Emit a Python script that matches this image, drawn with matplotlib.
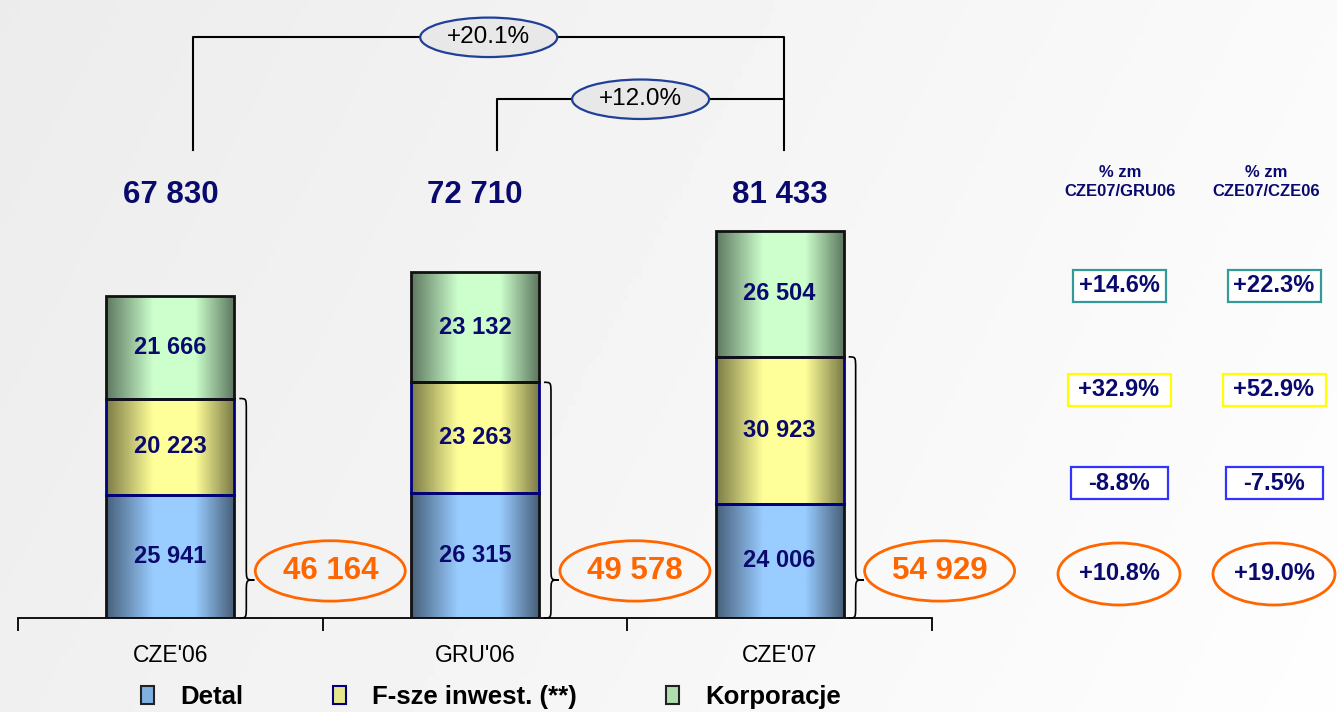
import numpy as np
import matplotlib
matplotlib.use("Agg")
import matplotlib.pyplot as plt
from matplotlib.colors import LinearSegmentedColormap
from matplotlib.patches import Ellipse, Rectangle, Patch, PathPatch
from matplotlib.path import Path

plt.rcParams['font.family'] = ['Liberation Sans', 'DejaVu Sans']

# data
categories = ["CZE'06", "GRU'06", "CZE'07"]
detal = [25941, 26315, 24006]
fsze = [20223, 23263, 30923]
korporacje = [21666, 23132, 26504]
totals = [67830, 72710, 81433]
sub_totals = [46164, 49578, 54929]
series_names = ["Detal", "F-sze inwest. (**)", "Korporacje"]
growth_top = ["+20.1%", "+12.0%"]
col_headers = ["% zm\nCZE07/GRU06", "% zm\nCZE07/CZE06"]
chg_gru = ["+14.6%", "+32.9%", "-8.8%", "+10.8%"]
chg_cze = ["+22.3%", "+52.9%", "-7.5%", "+19.0%"]

W, H = 1337, 712
NAVY = '#0a0a6e'
ORANGE = '#ff6600'

fig = plt.figure(figsize=(W / 100, H / 100), dpi=100)

# background gradient
bg = fig.add_axes([0, 0, 1, 1], zorder=-10)
gx, gy = np.meshgrid(np.linspace(0, 1, 200), np.linspace(0, 1, 100))
bg.imshow(0.925 + 0.055 * gx + 0.015 * gy, cmap='gray', vmin=0, vmax=1,
          aspect='auto', extent=[0, 1, 0, 1], origin='upper')
bg.axis('off')

ax = fig.add_axes([18 / W, 94 / H, (932 - 18) / W, 618 / H])
ax.patch.set_alpha(0)
x = np.arange(len(categories))
px = 1 / 304.7  # data units per pixel in x
bw = 0.42

cmaps = [
    LinearSegmentedColormap.from_list('b', ['#48617c', '#99ccff', '#99ccff', '#48617c'], N=256),
    LinearSegmentedColormap.from_list('y', ['#7d7d48', '#ffff99', '#ffff99', '#7d7d48'], N=256),
    LinearSegmentedColormap.from_list('g', ['#5f7a62', '#ccffcc', '#ccffcc', '#5f7a62'], N=256),
]
edges = ['#111111', '#000080', '#111111']
grad = np.linspace(0, 1, 100)[None, :]
grad = np.interp(grad, [0, 0.55, 1], [0, 0.5, 1])

bottoms = np.zeros(3)
for vals, cm, ec in zip([detal, fsze, korporacje], cmaps, edges):
    bars = ax.bar(x, vals, bw, bottom=bottoms, facecolor='none', edgecolor=ec, lw=2, zorder=3)
    for r, v in zip(bars, vals):
        x0, y0 = r.get_x(), r.get_y()
        im = ax.imshow(grad, cmap=cm, vmin=0, vmax=1, aspect='auto',
                       extent=[x0, x0 + r.get_width(), y0, y0 + r.get_height()], zorder=2)
        im.set_clip_path(r)
        ax.text(r.get_x() + r.get_width() / 2, y0 + v / 2, f"{v:,}".replace(",", " "),
                ha='center', va='center', fontsize=17, fontweight='bold', color=NAVY, zorder=4)
    bottoms += np.array(vals)

ymax = 130000
top = max(totals)
for xi, t in zip(x, totals):
    ax.text(xi, top * 1.093, f"{t:,}".replace(",", " "), ha='center', va='center',
            fontsize=22.5, fontweight='bold', color=NAVY)

# growth brackets
bx = [0.075, 1.072, 2.015]
base = top * 1.21
lv1, lv2 = top * 1.5, top * 1.34
ax.plot([bx[0], bx[0], bx[2], bx[2]], [base, lv1, lv1, base], color='black', lw=1.5, zorder=1, clip_on=False)
ax.plot([bx[1], bx[1], bx[2]], [base, lv2, lv2], color='black', lw=1.5, zorder=1, clip_on=False)
for (xa, xb), yl, lab in zip([(bx[0], bx[2]), (bx[1], bx[2])], [lv1, lv2], growth_top):
    xc = (xa + xb) / 2
    ax.add_patch(Ellipse((xc, yl), 137 * px, 8300, facecolor='#e8e8e8', edgecolor='#1f3f99',
                         lw=1.6, zorder=3, clip_on=False))
    ax.text(xc, yl, lab, ha='center', va='center', fontsize=17.5, color='black', zorder=4)

# braces and sub totals
for xi, s in zip(x, sub_totals):
    x0 = xi + bw / 2 + 5 * px
    x1 = x0 + 7 * px
    x2 = x0 + 15 * px
    yt, yb, ytip, r = s, 0, 8000, 2600
    verts = [(x0, yt), (x1, yt), (x1, yt), (x1, yt - r),
             (x1, ytip + r),
             (x1, ytip), (x1, ytip), (x2, ytip),
             (x1, ytip), (x1, ytip), (x1, ytip - r),
             (x1, yb + r),
             (x1, yb), (x1, yb), (x0, yb)]
    codes = [Path.MOVETO, Path.CURVE4, Path.CURVE4, Path.CURVE4, Path.LINETO,
             Path.CURVE4, Path.CURVE4, Path.CURVE4, Path.CURVE4, Path.CURVE4, Path.CURVE4,
             Path.LINETO, Path.CURVE4, Path.CURVE4, Path.CURVE4]
    ax.add_patch(PathPatch(Path(verts, codes), facecolor='none', edgecolor='black', lw=1.2,
                           zorder=3, clip_on=False))
    ec = xi + 0.525
    ax.add_patch(Ellipse((ec, 9900), 150 * px, 12700, facecolor='none', edgecolor=ORANGE, lw=2,
                         zorder=3, clip_on=False))
    ax.text(ec, 9900, f"{s:,}".replace(",", " "), ha='center', va='center',
            fontsize=22.5, fontweight='bold', color=ORANGE, zorder=4)

ax.set_xlim(-0.5, 2.5)
ax.set_ylim(0, ymax)
for sp in ['top', 'right', 'left']:
    ax.spines[sp].set_visible(False)
ax.spines['bottom'].set_linewidth(1.3)
ax.set_yticks([])
ax.set_xticks([-0.5, 0.5, 1.5, 2.5])
ax.set_xticklabels([])
ax.tick_params(axis='x', which='major', length=9, width=1.3, direction='out')
ax.set_xticks(x, minor=True)
ax.set_xticklabels(categories, minor=True, fontsize=16.5)
ax.tick_params(axis='x', which='minor', length=0, pad=19)

# legend
handles = [Patch(facecolor=c, edgecolor=e, lw=1.5) for c, e in
           zip(['#80b0e0', '#e6e68a', '#b0deb0'], ['#222222', '#000080', '#222222'])]
fig.legend(handles, series_names, loc='center', bbox_to_anchor=(491 / W, 1 - 697 / H), ncol=3,
           frameon=False, prop={'weight': 'bold', 'size': 18.5}, handlelength=0.5, handleheight=0.75,
           handletextpad=1.0, columnspacing=3.5, borderpad=0)

# change table on the right
def fx(p):
    return p / W

def fy(p):
    return 1 - p / H

col_x = [1119, 1274]
hdr_x = [1120, 1266]
row_y = [286, 390, 483, 574]
box_w = [93, 103, 97]
box_c = ['#339999', '#ffff00', '#3333ff']
for cx, hx, hdr, vals in zip(col_x, hdr_x, col_headers, [chg_gru, chg_cze]):
    fig.text(fx(hx), fy(182), hdr, ha='center', va='center', fontsize=12,
             fontweight='bold', color=NAVY, linespacing=1.3)
    for i, v in enumerate(vals):
        if i < 3:
            fig.add_artist(Rectangle((fx(cx - box_w[i] / 2), fy(row_y[i] + 16)), box_w[i] / W, 32 / H,
                                     transform=fig.transFigure, facecolor='white',
                                     edgecolor=box_c[i], lw=1.6))
        else:
            fig.add_artist(Ellipse((fx(cx), fy(row_y[i])), 122 / W, 62 / H, transform=fig.transFigure,
                                   facecolor='none', edgecolor=ORANGE, lw=2))
        fig.text(fx(cx), fy(row_y[i]), v, ha='center', va='center', fontsize=17,
                 fontweight='bold', color=NAVY)

fig.savefig('out.png', dpi=100)
